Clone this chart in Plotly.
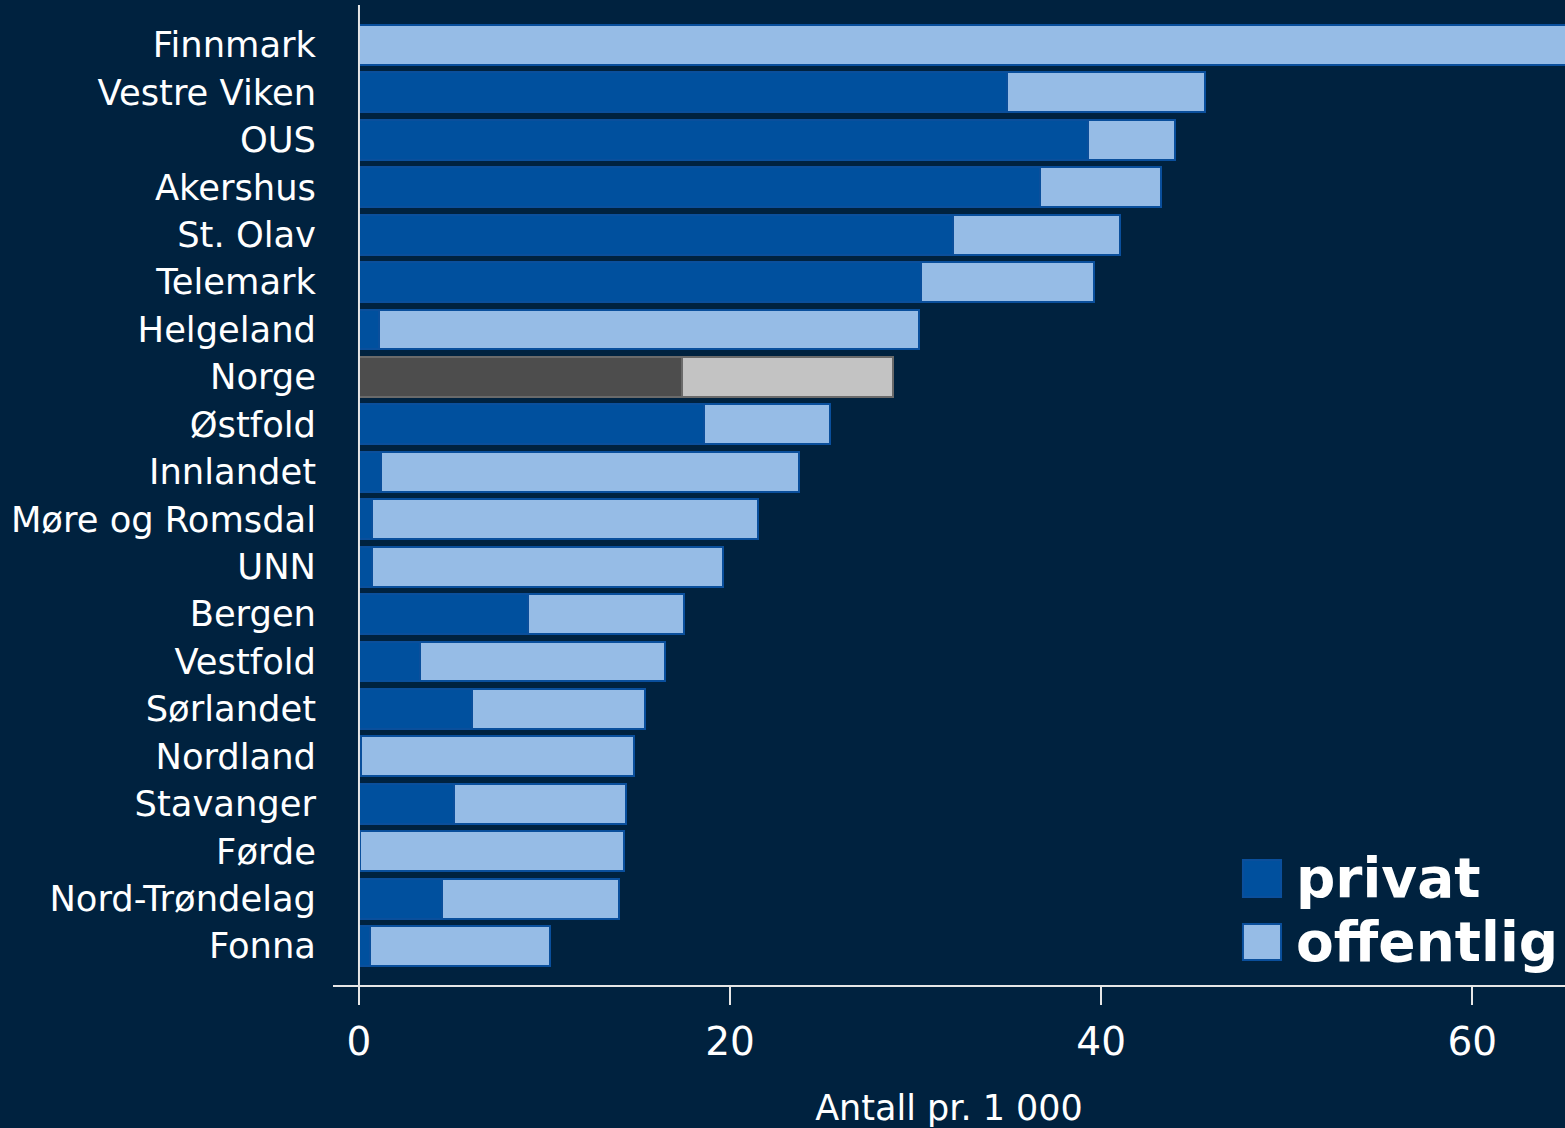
import plotly.graph_objects as go

regions = ["Finnmark", "Vestre Viken", "OUS", "Akershus", "St. Olav", "Telemark",
           "Helgeland", "Norge", "Østfold", "Innlandet", "Møre og Romsdal", "UNN",
           "Bergen", "Vestfold", "Sørlandet", "Nordland", "Stavanger", "Førde",
           "Nord-Trøndelag", "Fonna"]
privat = [0.0, 34.9, 39.3, 36.7, 32.0, 30.3, 1.1, 17.4, 18.6, 1.2, 0.7, 0.7,
          9.1, 3.3, 6.1, 0.1, 5.1, 0.05, 4.5, 0.6]
offentlig = [70.0, 10.7, 4.7, 6.5, 9.0, 9.3, 29.1, 11.4, 6.8, 22.5, 20.8, 18.9,
             8.4, 13.2, 9.3, 14.7, 9.3, 14.25, 9.5, 9.7]
legend_labels = ["privat", "offentlig"]
x_title = "Antall pr. 1 000"
x_ticks = [0, 20, 40, 60]

BG = "#00223f"
PRIV = "#00509e"
OFF = "#96bce6"
EDGE = "#0a4f9c"
NORGE_PRIV = "#4d4d4d"
NORGE_OFF = "#c3c3c3"
NORGE_EDGE = "#6a6a6a"
AXIS = "#e6e6e6"
FONT = "DejaVu Sans"

priv_colors = [NORGE_PRIV if r == "Norge" else PRIV for r in regions]
off_colors = [NORGE_OFF if r == "Norge" else OFF for r in regions]
edge_colors = [NORGE_EDGE if r == "Norge" else EDGE for r in regions]

fig = go.Figure()
fig.add_trace(go.Bar(y=regions, x=privat, orientation="h", name=legend_labels[0],
                     marker=dict(color=priv_colors, line=dict(color=edge_colors, width=2)),
                     showlegend=False))
fig.add_trace(go.Bar(y=regions, x=offentlig, orientation="h", name=legend_labels[1],
                     marker=dict(color=off_colors, line=dict(color=edge_colors, width=2)),
                     showlegend=False))

fig.update_layout(
    width=1565, height=1128,
    barmode="stack", bargap=0.16,
    paper_bgcolor=BG, plot_bgcolor=BG,
    margin=dict(l=333, r=0, t=5, b=143),
    font=dict(family=FONT, color="white", size=34),
    showlegend=False,
)
fig.update_xaxes(
    range=[-1.4, 65.0], tickvals=x_ticks, showgrid=False, zeroline=False,
    showline=True, linecolor=AXIS, linewidth=2,
    ticks="outside", ticklen=18, tickwidth=2, tickcolor=AXIS, ticklabelstandoff=3,
    tickfont=dict(size=39, color="white", family=FONT),
    title=dict(text=x_title, font=dict(size=35, color="white", family=FONT), standoff=40),
)
fig.update_yaxes(
    categoryorder="array", categoryarray=regions,
    range=[19.82, -0.84], showgrid=False, zeroline=False, showline=False,
    ticks="", ticklabelstandoff=16,
    tickfont=dict(size=35.3, color="white", family=FONT),
)

# vertical axis line at x = 0
fig.add_shape(type="line", xref="x", yref="paper", x0=0, x1=0, y0=0, y1=1,
              line=dict(color=AXIS, width=2))

# manual legend
leg = [(legend_labels[0], PRIV, 0.0898, 0.1276, 0.1092),
       (legend_labels[1], OFF, 0.0255, 0.0622, 0.0439)]
for label, col, y0, y1, yc in leg:
    fig.add_shape(type="rect", xref="paper", yref="paper", x0=0.7386, x1=0.7695,
                  y0=y0, y1=y1, fillcolor=col, line=dict(color=EDGE, width=2))
    fig.add_annotation(xref="paper", yref="paper", x=0.7800, y=yc, text=f"<b>{label}</b>",
                       showarrow=False, xanchor="left", yanchor="middle",
                       font=dict(size=55, color="white", family=FONT))

fig.write_html("out.html", config={"displayModeBar": False},
               post_script="document.body.style.margin='0';document.body.style.overflow='hidden';")
